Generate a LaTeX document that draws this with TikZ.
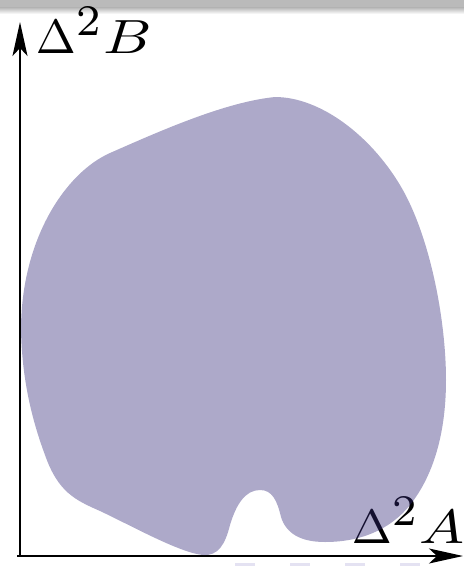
\documentclass[tikz,border=0pt]{standalone}
\usepackage{graphicx}
\usetikzlibrary{arrows.meta}
\definecolor{blobcol}{RGB}{50,40,120}
\definecolor{navcol}{RGB}{228,226,242}
\newcommand{\supii}{^{\scalebox{1.3}{$\scriptstyle 2$}}}
\newcommand{\wideletter}[1]{\scalebox{1.25}[1]{$#1$}}
\tikzset{
  axis/.style={line width=1.8pt, -{Stealth[length=34pt,width=15pt,inset=8pt]}},
  axlabel/.style={inner sep=0pt, anchor=base west, scale=4.8},
  blob/.style={fill=blobcol, fill opacity=0.4, draw=none},
  navmark/.style={fill=navcol, draw=none}
}
\begin{document}
\begin{tikzpicture}[x=1pt,y=-1pt]
\useasboundingbox (0,0) rectangle (464,566);
% header bar
\fill[black!27] (0,0) rectangle (464,7);
\shade[top color=black!30, bottom color=white] (0,7) rectangle (464,14);
% axes
\coordinate (O) at (20,556);
\coordinate (Ytip) at (20,22);
\coordinate (Xtip) at (463,556);
\coordinate (Ostart) at (17,556);
\draw[axis] (O) -- (Ytip);
\draw[axis] (Ostart) -- (Xtip);
% labels
\node[axlabel] (lb) at (35,53) {$\Delta\supii\wideletter{B}$};
\node[axlabel] (la) at (351,543) {$\Delta\supii\wideletter{A}$};
% region
\path[blob] (275,97)
  .. controls (320,97) and (370,135) .. (400,185)
  .. controls (430,235) and (446,320) .. (446,380)
  .. controls (446,440) and (430,480) .. (410,505)
  .. controls (390,530) and (360,542) .. (325,542)
  .. controls (300,542) and (286,533) .. (281,517)
  .. controls (277,500) and (272,490) .. (260,490)
  .. controls (245,490) and (236,505) .. (230,525)
  .. controls (225,545) and (218,556) .. (203,555)
  .. controls (180,553) and (130,525) .. (100,511)
  .. controls (75,500) and (58,492) .. (45,455)
  .. controls (32,420) and (22,380) .. (21,330)
  .. controls (21,240) and (65,173) .. (110,153)
  .. controls (160,131) and (225,102) .. (275,97) -- cycle;
% faint navigation marks
\fill[navmark] (235,563) rectangle (255,566);
\fill[navmark] (290,563) rectangle (310,566);
\fill[navmark] (345,563) rectangle (365,566);
\fill[navmark] (400,563) rectangle (420,566);
\end{tikzpicture}
\end{document}
